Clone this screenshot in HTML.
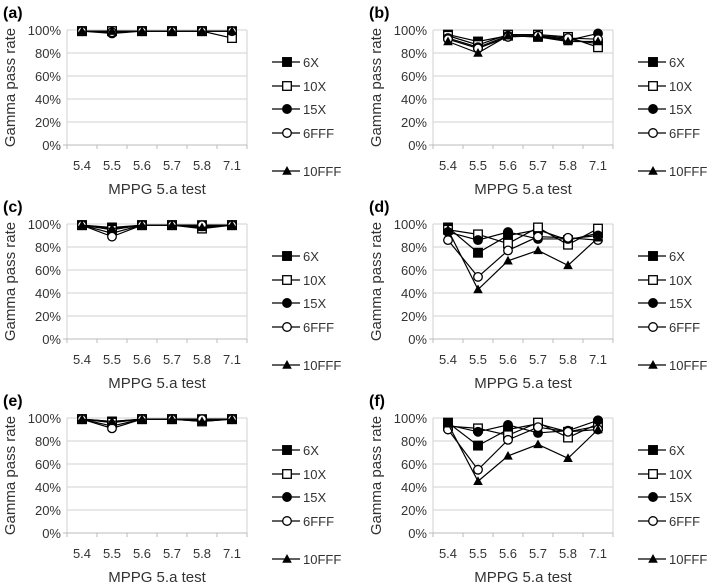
<!DOCTYPE html>
<html><head><meta charset="utf-8"><style>
html,body{margin:0;padding:0;background:#fff;}
svg{display:block;font-family:"Liberation Sans",sans-serif;}
</style></head><body>
<svg id="chart" width="709" height="583" viewBox="0 0 709 583"></svg>
<script>
const categories = ["5.4","5.5","5.6","5.7","5.8","7.1"];
const seriesNames = ["6X","10X","15X","6FFF","10FFF"];
const yTicks = [0,20,40,60,80,100];
const panelLabels = ["(a)","(b)","(c)","(d)","(e)","(f)"];
const dataA = [[99,99,99,99,99,99],[99,99,99,99,99,93],[99,97,99,99,99,99],[99,98,99,99,99,99],[99,99,99,99,99,99]];
const dataB = [[96,90,95,94,92,88],[95,87,96,96,94,85],[93,85,95,95,91,97],[92,84,94,95,93,92],[90,80,95,94,90,90]];
const dataC = [[99,97,99,99,99,99],[99,95,99,99,96,99],[99,92,99,99,98,99],[99,89,99,99,99,99],[99,96,99,99,97,99]];
const dataD = [[97,75,90,95,86,92],[95,91,83,97,82,96],[93,86,93,87,87,90],[86,54,77,89,88,86],[95,43,68,77,64,88]];
const dataE = [[99,97,99,99,99,99],[99,96,99,99,97,99],[99,93,99,99,98,99],[99,91,99,99,99,99],[99,97,99,99,97,99]];
const dataF = [[96,76,90,95,88,93],[93,91,85,96,83,95],[94,88,94,87,89,98],[90,55,81,92,88,90],[95,45,67,77,65,90]];
const panels = [dataA,dataB,dataC,dataD,dataE,dataF];

const NS="http://www.w3.org/2000/svg";
const svg=document.getElementById('chart');
function mk(tag,attrs,parent){const e=document.createElementNS(NS,tag);for(const k in attrs)e.setAttribute(k,attrs[k]);(parent||svg).appendChild(e);return e;}
function marker(g,i,x,y){
  if(i===0||i===1){return mk('rect',{x:x-4.3,y:y-4.3,width:8.6,height:8.6,fill:i===0?'#000':'#fff',stroke:'#000','stroke-width':1.3},g);}
  if(i===2||i===3){return mk('circle',{cx:x,cy:y,r:4.3,fill:i===2?'#000':'#fff',stroke:'#000','stroke-width':1.3},g);}
  return mk('polygon',{points:`${x},${y-5} ${x+4.8},${y+3.7} ${x-4.8},${y+3.7}`,fill:'#000'},g);
}
panels.forEach((data,p)=>{
  const ox=(p%2)*366, oy=Math.floor(p/2)*194;
  const g=mk('g',{});
  
  
  const left=67+ox, right=247+ox, top=30+oy, bot=145+oy;
  const xs=i=>left+15+i*(right-left)/categories.length;
  const ys=v=>bot-(v/100)*(bot-top);
  const lab=mk('text',{x:3+ox,y:18+oy,'font-size':16,'font-weight':'bold',fill:'#000'},g);lab.textContent=panelLabels[p];
  
  yTicks.forEach(t=>{
    const y=ys(t);
    if(t>0){const gl=mk('line',{x1:left,x2:right,y1:y,y2:y,stroke:'#d0d0d0','stroke-width':1},g);
      }
    const tl=mk('text',{x:left-6,y:y+5,'font-size':13,'text-anchor':'end',fill:'#333'},g);tl.textContent=t+'%';
    
  });
  mk('line',{x1:right,x2:right,y1:top,y2:bot,stroke:'#d0d0d0'},g);
  mk('line',{x1:left,x2:left,y1:top,y2:bot,stroke:'#d0d0d0'},g);
  mk('line',{x1:left-4,x2:right,y1:bot,y2:bot,stroke:'#bbb'},g);
  categories.forEach((c,i)=>{
    mk('line',{x1:left+i*30,x2:left+i*30,y1:bot,y2:bot+4,stroke:'#bbb'},g);
    const t=mk('text',{x:xs(i),y:bot+25,'font-size':13,'text-anchor':'middle',fill:'#333'},g);t.textContent=c;
    
  });
  mk('line',{x1:right,x2:right,y1:bot,y2:bot+4,stroke:'#bbb'},g);
  const xt=mk('text',{x:(left+right)/2,y:bot+49,'font-size':15,'text-anchor':'middle',fill:'#333'},g);xt.textContent='MPPG 5.a test';
  
  const yt=mk('text',{x:0,y:0,'font-size':15,'text-anchor':'middle',fill:'#333',transform:`translate(${15+ox},${(top+bot)/2}) rotate(-90)`},g);yt.textContent='Gamma pass rate';
  
  data.forEach((vals,si)=>{
    const pts=vals.map((v,i)=>xs(i)+','+ys(v)).join(' ');
    const pl=mk('polyline',{points:pts,fill:'none',stroke:'#000','stroke-width':1.2},g);
    
    vals.forEach((v,i)=>{const m=marker(g,si,xs(i),ys(v));
      });
  });
  const legY=[62,86,109,133,171];
  seriesNames.forEach((n,si)=>{
    const y=legY[si]+oy;
    const lg=mk('g',{},g);
    
    mk('line',{x1:272+ox,x2:300+ox,y1:y,y2:y,stroke:'#000','stroke-width':1.2},lg);
    marker(lg,si,287+ox,y);
    const t=mk('text',{x:303+ox,y:y+5,'font-size':13,fill:'#333'},lg);t.textContent=n;
  });
});
</script>
</body></html>
